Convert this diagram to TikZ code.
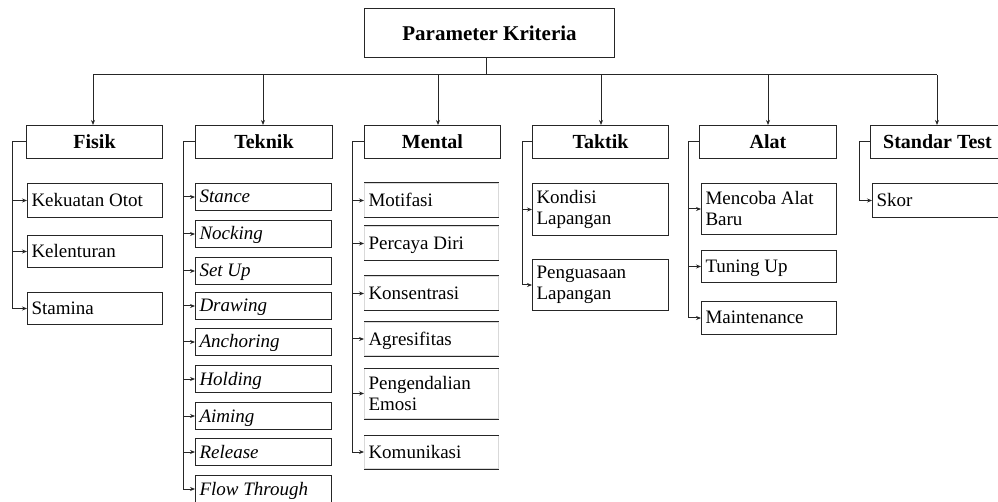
\documentclass[tikz,border=0pt]{standalone}
\usepackage{fontspec}
\setmainfont{Liberation Serif}
\usetikzlibrary{arrows.meta}

\tikzset{
  ln/.style={draw=black!85, line width=1pt},
  arr/.style={ln, -{Stealth[length=5pt,width=4pt]}},
  topbox/.style={draw=black!85, line width=1pt, minimum width=250pt, minimum height=49pt,
    anchor=north west, font=\fontsize{21}{25}\selectfont\bfseries},
  catbox/.style={draw=black!85, line width=1pt, minimum height=33pt,
    anchor=north west, font=\fontsize{20}{24}\selectfont\bfseries},
  subbox/.style={draw=black!85, line width=1pt, anchor=north west, align=flush left,
    inner xsep=4pt, font=\fontsize{19}{21}\selectfont},
  oneline/.style={inner ysep=0pt, text height=14pt, text depth=2pt},
  openbox/.style={subbox, draw=black!15},
  itl/.style={font=\fontsize{19}{21}\selectfont\itshape}
}

\begin{document}
\begin{tikzpicture}[x=1pt, y=-1pt]
\useasboundingbox (0,0) rectangle (998,502);

% root
\node[topbox] (root) at (364,8) {Parameter Kriteria};

% categories
\node[catbox, minimum width=136pt] (fisik)  at (26,125)  {Fisik};
\node[catbox, minimum width=137pt] (teknik) at (195,125) {Teknik};
\node[catbox, minimum width=136pt] (mental) at (364,125) {Mental};
\node[catbox, minimum width=136pt] (taktik) at (532,125) {Taktik};
\node[catbox, minimum width=137pt] (alat)   at (699,125) {Alat};
\node[catbox, minimum width=134pt] (std)    at (870,125) {Standar Test};

% bus from the root to the categories
\coordinate (bus) at (486,75);
\draw[ln] (root.south -| bus) -- (bus);
\draw[ln] (93,75) -- (937,75);
\coordinate (bF) at (93,75);
\coordinate (bT) at (263,75);
\coordinate (bM) at (438,75);
\coordinate (bK) at (601,75);
\coordinate (bA) at (768,75);
\coordinate (bS) at (937,75);
\draw[arr] (bF) -- (bF |- fisik.north);
\draw[arr] (bT) -- (bT |- teknik.north);
\draw[arr] (bM) -- (bM |- mental.north);
\draw[arr] (bK) -- (bK |- taktik.north);
\draw[arr] (bA) -- (bA |- alat.north);
\draw[arr] (bS) -- (bS |- std.north);

% Fisik
\node[subbox, oneline, text width=127pt, minimum height=34pt] (f1) at (27,183) {Kekuatan Otot};
\node[subbox, oneline, text width=127pt, minimum height=32pt] (f2) at (27,235) {Kelenturan};
\node[subbox, oneline, text width=127pt, minimum height=32pt] (f3) at (27,292) {Stamina};

% Teknik
\foreach \n/\y/\t in {t1/183/Stance, t2/220/Nocking, t3/257/Set Up, t4/292/Drawing,
    t5/328/Anchoring, t6/365/Holding, t7/402/Aiming, t8/438/Release, t9/475/Flow Through}
  \node[subbox, oneline, itl, text width=128pt, minimum height=27pt] (\n) at (195,\y) {\t};

% Mental: only the top and bottom rules are strong
\node[openbox, oneline, text width=126pt, minimum height=34pt] (m1) at (364,183) {Motifasi};
\node[openbox, oneline, text width=126pt, minimum height=34pt] (m2) at (364,226) {Percaya Diri};
\node[openbox, oneline, text width=126pt, minimum height=34pt] (m3) at (364,276) {Konsentrasi};
\node[openbox, oneline, text width=126pt, minimum height=33pt] (m4) at (364,322) {Agresifitas};
\node[openbox, text width=126pt, minimum height=50pt] (m5) at (364,368) {Pengendalian\\Emosi};
\node[openbox, oneline, text width=126pt, minimum height=33pt] (m6) at (364,435) {Komunikasi};
\foreach \n in {m1,m2,m3,m4,m5,m6}
  \draw[ln] (\n.north west) -- (\n.north east) (\n.south west) -- (\n.south east);

% Taktik
\node[subbox, text width=128pt, minimum height=52pt] (k1) at (532,183) {Kondisi\\Lapangan};
\node[subbox, text width=128pt, minimum height=51pt] (k2) at (532,259) {Penguasaan\\Lapangan};

% Alat
\node[subbox, text width=127pt, minimum height=51pt] (a1) at (701,183) {Mencoba Alat\\Baru};
\node[subbox, oneline, text width=127pt, minimum height=32pt] (a2) at (701,250) {Tuning Up};
\node[subbox, oneline, text width=127pt, minimum height=33pt] (a3) at (701,301) {Maintenance};

% Standar Test
\node[subbox, oneline, text width=124pt, minimum height=34pt] (s1) at (872,183) {Skor};

% side brackets: stub from each category, down the spine, arrows into the items
\foreach \c/\x/\last/\items in {fisik/12/f3/{f1,f2,f3},
    teknik/183/t9/{t1,t2,t3,t4,t5,t6,t7,t8,t9},
    mental/352/m6/{m1,m2,m3,m4,m5,m6},
    taktik/522/k2/{k1,k2},
    alat/688/a3/{a1,a2,a3},
    std/859/s1/{s1}}{
  \coordinate (sp) at (\x,0);
  \draw[ln] (\c.west) -- (\c.west -| sp) -- (\last.west -| sp);
  \foreach \i in \items
    \draw[arr] (\i.west -| sp) -- (\i.west);
}
\end{tikzpicture}
\end{document}
